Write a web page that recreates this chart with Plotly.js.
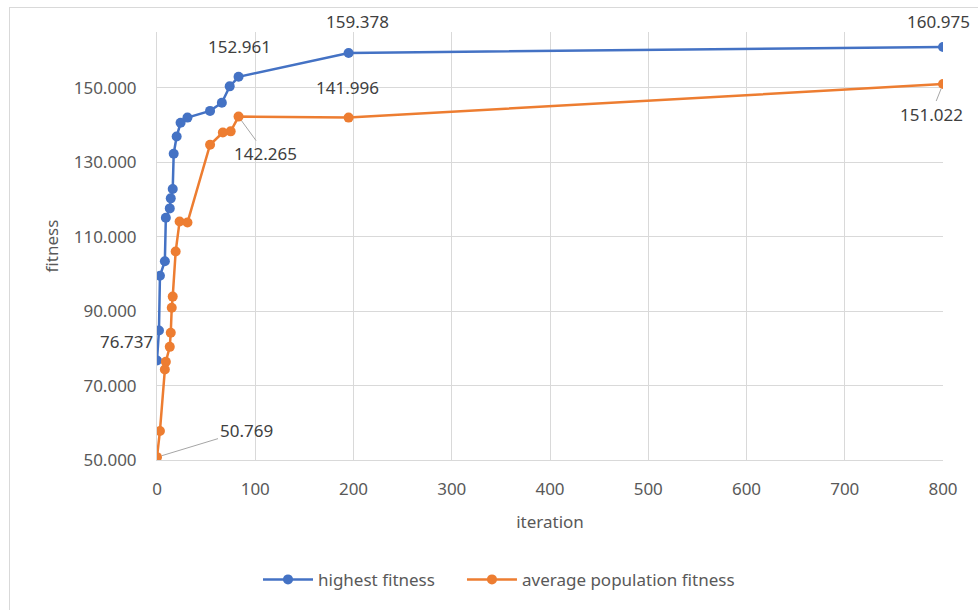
<!DOCTYPE html>
<html>
<head>
<meta charset="utf-8">
<script src="https://cdn.plot.ly/plotly-3.0.1.min.js"></script>
<style>
html,body{margin:0;padding:0;background:#fff;}
#frame{position:absolute;left:9px;top:7px;width:980px;height:620px;border:1px solid #d9d9d9;box-sizing:border-box;}
#chart{position:absolute;left:0;top:0;width:978px;height:610px;}
</style>
</head>
<body>
<div id="frame"></div>
<div id="chart"></div>
<script>
// Data
const seriesNames = ["highest fitness", "average population fitness"];
const hiX = [0, 2, 3, 8, 9, 13, 14, 16, 17, 20, 24, 31, 54, 66, 74, 83, 195, 800];
const hiY = [76.737, 84.8, 99.5, 103.4, 115.1, 117.6, 120.3, 122.8, 132.3, 136.9, 140.6, 142.0, 143.8, 146.0, 150.4, 152.961, 159.378, 160.975];
const avgX = [0, 3, 8, 9, 13, 14, 15, 16, 19, 23, 31, 54, 67, 75, 83, 195, 800];
const avgY = [50.769, 57.8, 74.3, 76.4, 80.4, 84.2, 90.9, 93.9, 106.0, 114.1, 113.8, 134.7, 138.0, 138.3, 142.265, 141.996, 151.022];
const xTickVals = [0, 100, 200, 300, 400, 500, 600, 700, 800];
const yTickVals = [50, 70, 90, 110, 130, 150];

const blue = "#4472C4", orange = "#ED7D31";
const font = "Noto Sans, DejaVu Sans, sans-serif";

const traces = [
  {x: hiX, y: hiY, name: seriesNames[0], type: "scatter", mode: "lines+markers", legend: "legend",
   line: {color: blue, width: 2.5}, marker: {color: blue, size: 10}},
  {x: avgX, y: avgY, name: seriesNames[1], type: "scatter", mode: "lines+markers", legend: "legend2",
   line: {color: orange, width: 2.5}, marker: {color: orange, size: 10}}
];

function lab(xs, ys, i, opt) {
  const base = {x: xs[i], y: ys[i], text: ys[i].toFixed(3), xref: "x", yref: "y",
    font: {family: font, size: 17, color: "#404040"}};
  return Object.assign(base, opt);
}
const lead = {showarrow: true, arrowhead: 0, arrowwidth: 1, arrowcolor: "#a6a6a6", standoff: 5};
const hn = hiX.length - 1, an = avgX.length - 1;

const annotations = [
  lab(hiX, hiY, hn, {showarrow: false, xshift: -5, yshift: 25}),
  lab(hiX, hiY, hn - 1, {showarrow: false, xshift: 9, yshift: 31}),
  lab(hiX, hiY, hn - 2, {showarrow: false, xshift: 1, yshift: 30}),
  lab(hiX, hiY, 0, {showarrow: false, xshift: -31, yshift: 19}),
  lab(avgX, avgY, 0, Object.assign({ax: 89, ay: -27}, lead)),
  lab(avgX, avgY, an - 2, Object.assign({ax: 27, ay: 37}, lead)),
  lab(avgX, avgY, an - 1, {showarrow: false, xshift: -1, yshift: 30}),
  lab(avgX, avgY, an, Object.assign({ax: -12, ay: 30}, lead))
];

const legendBase = {orientation: "h", xanchor: "left", y: -0.28, yanchor: "middle",
  itemwidth: 50, font: {family: font, size: 17, color: "#595959"}};

const layout = {
  width: 978, height: 610,
  margin: {l: 157, r: 35, t: 32, b: 150},
  paper_bgcolor: "rgba(0,0,0,0)", plot_bgcolor: "#fff",
  font: {family: font, size: 16, color: "#595959"},
  showlegend: true,
  legend: Object.assign({x: 0.1285}, legendBase),
  legend2: Object.assign({x: 0.388}, legendBase),
  xaxis: {range: [0, 800], tickvals: xTickVals, ticktext: xTickVals.map(String),
    showgrid: true, gridcolor: "#d9d9d9", gridwidth: 1, zeroline: false,
    showline: true, linecolor: "#d9d9d9", ticks: "", ticklabelstandoff: 14,
    tickfont: {family: font, size: 17, color: "#595959"},
    title: {text: "iteration", font: {family: font, size: 17, color: "#595959"}, standoff: 16}},
  yaxis: {range: [50, 165], tickvals: yTickVals, tickformat: ".3f",
    showgrid: true, gridcolor: "#d9d9d9", gridwidth: 1, zeroline: false,
    showline: true, linecolor: "#d9d9d9", ticks: "", ticklabelstandoff: 16,
    tickfont: {family: font, size: 17, color: "#595959"},
    title: {text: "fitness", font: {family: font, size: 17, color: "#595959"}, standoff: 10}},
  annotations: annotations
};

Plotly.newPlot("chart", traces, layout, {displayModeBar: false, staticPlot: true});
</script>
</body>
</html>
